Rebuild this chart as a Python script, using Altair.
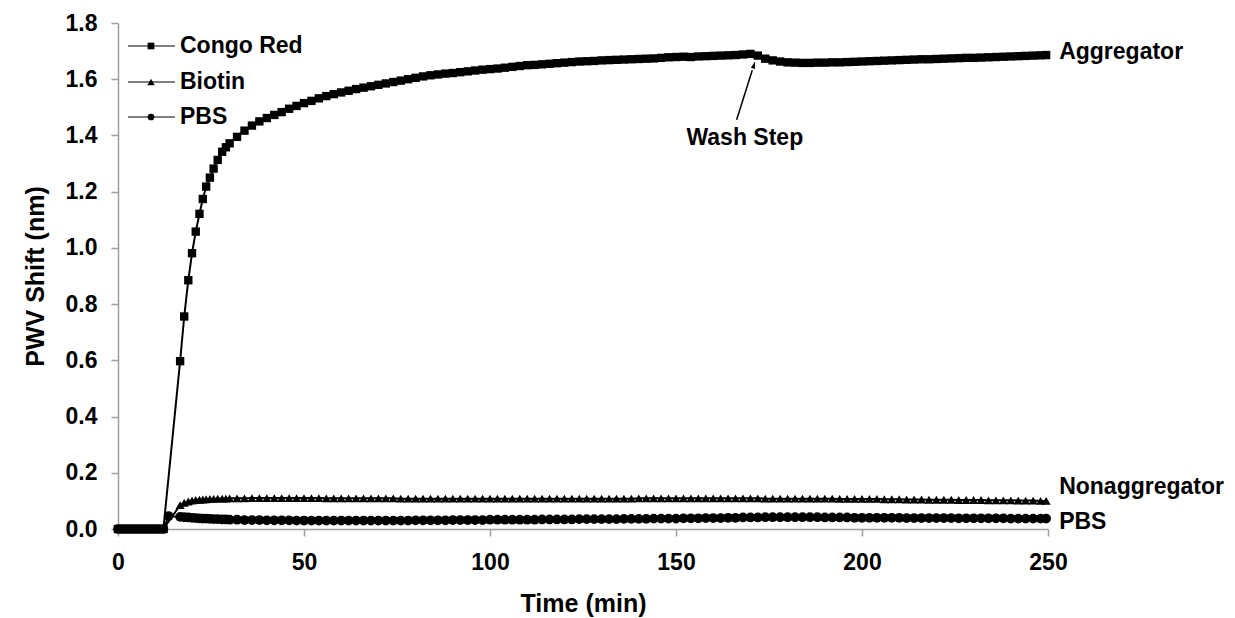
import altair as alt
import pandas as pd

# ---------------- data ----------------
series_names = ["Congo Red", "Biotin", "PBS"]

base_t = [0, 1, 2, 3, 4, 5, 6, 7, 8, 9, 10, 11, 12.2]
base_v = [0.0, 0.0, 0.0, 0.0, 0.0, 0.0, 0.0, 0.0, 0.0, 0.0, 0.0, 0.0, 0.0]

rise_t = [16.7, 17.8, 18.9, 19.9, 20.9, 21.9, 22.8, 23.7, 24.7, 25.7, 26.8, 28.0, 29.0, 30.0]

plat_t = [
    32, 34, 36, 38, 40, 42, 44, 46, 48, 50,
    52, 54, 56, 58, 60, 62, 64, 66, 68, 70,
    72, 74, 76, 78, 80, 82, 84, 86, 88, 90,
    92, 94, 96, 98, 100, 102, 104, 106, 108, 110,
    112, 114, 116, 118, 120, 122, 124, 126, 128, 130,
    132, 134, 136, 138, 140, 142, 144, 146, 148, 150,
    152, 154, 156, 158, 160, 162, 164, 166, 168, 170,
    172, 174, 176, 178, 180, 182, 184, 186, 188, 190,
    192, 194, 196, 198, 200, 202, 204, 206, 208, 210,
    212, 214, 216, 218, 220, 222, 224, 226, 228, 230,
    232, 234, 236, 238, 240, 242, 244, 246, 248, 249.5,
]

congo_rise = [0.597, 0.756, 0.885, 0.981, 1.058, 1.121, 1.174, 1.218, 1.250, 1.282,
              1.313, 1.342, 1.358, 1.372]
congo_plat = [
    1.395, 1.417, 1.435, 1.450, 1.462, 1.473, 1.483, 1.495, 1.505, 1.515,
    1.523, 1.532, 1.540, 1.547, 1.553, 1.559, 1.565, 1.570, 1.575, 1.580,
    1.585, 1.590, 1.595, 1.600, 1.605, 1.610, 1.614, 1.617, 1.620, 1.622,
    1.625, 1.628, 1.631, 1.634, 1.636, 1.638, 1.641, 1.644, 1.647, 1.650,
    1.651, 1.653, 1.655, 1.657, 1.659, 1.661, 1.663, 1.664, 1.665, 1.667,
    1.668, 1.669, 1.670, 1.671, 1.672, 1.673, 1.674, 1.676, 1.678, 1.679,
    1.680, 1.679, 1.681, 1.682, 1.683, 1.684, 1.685, 1.686, 1.688, 1.690,
    1.684, 1.673, 1.667, 1.663, 1.660, 1.659, 1.658, 1.658, 1.659, 1.659,
    1.660, 1.660, 1.661, 1.662, 1.663, 1.664, 1.665, 1.666, 1.667, 1.668,
    1.669, 1.670, 1.671, 1.671, 1.672, 1.673, 1.674, 1.675, 1.676, 1.676,
    1.677, 1.678, 1.679, 1.680, 1.681, 1.682, 1.683, 1.684, 1.685, 1.686,
]

biotin_rise = [0.085, 0.093, 0.098, 0.101, 0.103, 0.104, 0.105, 0.106, 0.107, 0.107,
               0.108, 0.108, 0.108, 0.109]
biotin_plat = [
    0.109, 0.109, 0.110, 0.110, 0.110, 0.110, 0.110, 0.110, 0.110, 0.110,
    0.110, 0.110, 0.109, 0.109, 0.109, 0.109, 0.109, 0.109, 0.109, 0.109,
    0.109, 0.109, 0.108, 0.108, 0.108, 0.108, 0.108, 0.108, 0.108, 0.108,
    0.108, 0.108, 0.108, 0.108, 0.108, 0.108, 0.108, 0.108, 0.108, 0.108,
    0.108, 0.108, 0.108, 0.108, 0.108, 0.108, 0.108, 0.108, 0.108, 0.108,
    0.108, 0.108, 0.108, 0.108, 0.109, 0.109, 0.109, 0.109, 0.109, 0.109,
    0.109, 0.109, 0.109, 0.109, 0.109, 0.109, 0.109, 0.109, 0.109, 0.109,
    0.109, 0.108, 0.108, 0.108, 0.108, 0.108, 0.108, 0.108, 0.108, 0.108,
    0.108, 0.107, 0.107, 0.107, 0.107, 0.107, 0.107, 0.106, 0.106, 0.106,
    0.105, 0.105, 0.105, 0.104, 0.104, 0.104, 0.104, 0.103, 0.103, 0.103,
    0.103, 0.102, 0.102, 0.102, 0.102, 0.101, 0.101, 0.101, 0.100, 0.100,
]

pbs_step_t = [13.6]
pbs_step_v = [0.046]
pbs_rise = [0.043, 0.042, 0.041, 0.040, 0.039, 0.038, 0.037, 0.037, 0.036, 0.035,
            0.035, 0.034, 0.034, 0.033]
pbs_plat = [
    0.033, 0.032, 0.032, 0.032, 0.031, 0.031, 0.031, 0.031, 0.030, 0.030,
    0.030, 0.030, 0.030, 0.030, 0.030, 0.030, 0.030, 0.030, 0.030, 0.030,
    0.030, 0.030, 0.030, 0.030, 0.031, 0.031, 0.031, 0.031, 0.031, 0.032,
    0.032, 0.032, 0.032, 0.032, 0.033, 0.033, 0.033, 0.033, 0.033, 0.033,
    0.033, 0.034, 0.034, 0.034, 0.034, 0.034, 0.035, 0.035, 0.035, 0.035,
    0.035, 0.035, 0.036, 0.036, 0.036, 0.036, 0.037, 0.037, 0.037, 0.037,
    0.038, 0.038, 0.038, 0.039, 0.039, 0.039, 0.040, 0.040, 0.041, 0.041,
    0.041, 0.042, 0.042, 0.042, 0.042, 0.042, 0.042, 0.042, 0.042, 0.041,
    0.041, 0.041, 0.041, 0.040, 0.040, 0.040, 0.040, 0.040, 0.040, 0.040,
    0.039, 0.039, 0.039, 0.039, 0.039, 0.039, 0.039, 0.038, 0.038, 0.038,
    0.038, 0.038, 0.038, 0.038, 0.037, 0.037, 0.037, 0.037, 0.037, 0.037,
]

x_ticks = [0, 50, 100, 150, 200, 250]
y_ticks = [0.0, 0.2, 0.4, 0.6, 0.8, 1.0, 1.2, 1.4, 1.6, 1.8]

end_labels = ["Aggregator", "Nonaggregator", "PBS"]
end_label_t = [253, 253, 253]
end_label_v = [1.697, 0.149, 0.025]

wash_text = "Wash Step"
wash_text_t = [168.5]
wash_text_v = [1.391]
arrow_t = [166.3, 170.5]
arrow_v = [1.456, 1.632]
arrow_head_t = [170.9]
arrow_head_v = [1.648]

# ---------------- build table ----------------
rows = []
def add(name, ts, vs):
    for t, v in zip(ts, vs, strict=True):
        rows.append({"series": name, "t": t, "v": v, "i": len(rows)})

add("Congo Red", base_t + rise_t + plat_t, base_v + congo_rise + congo_plat)
add("Biotin", base_t + rise_t + plat_t, base_v + biotin_rise + biotin_plat)
add("PBS", base_t + pbs_step_t + rise_t + plat_t, base_v + pbs_step_v + pbs_rise + pbs_plat)
df = pd.DataFrame(rows)

FONT = "Liberation Sans"
AX_GRAY = "#a0a0a0"
TXT = 23

x_scale = alt.Scale(domain=[0, 250], nice=False, zero=False)
y_scale = alt.Scale(domain=[0, 1.8], nice=False)

x_enc = alt.X("t:Q", scale=x_scale, axis=alt.Axis(
    values=x_ticks, format="d", title="Time (min)", grid=False,
    labelFontSize=TXT, labelFontWeight="bold", labelColor="black", labelFont=FONT,
    titleFontSize=25, titleFontWeight="bold", titleColor="black", titleFont=FONT,
    domainColor=AX_GRAY, domainWidth=1.5, tickColor=AX_GRAY, tickWidth=1.5, tickSize=7,
    labelPadding=15, titlePadding=17, labelFlush=False))
y_enc = alt.Y("v:Q", scale=y_scale, axis=alt.Axis(
    values=y_ticks, format=".1f", title="PWV Shift (nm)", grid=False,
    labelFontSize=TXT, labelFontWeight="bold", labelColor="black", labelFont=FONT,
    titleFontSize=25, titleFontWeight="bold", titleColor="black", titleFont=FONT,
    domainColor=AX_GRAY, domainWidth=1.5, tickColor=AX_GRAY, tickWidth=1.5, tickSize=7,
    labelPadding=14, titlePadding=17, labelFlush=False))

shape_scale = alt.Scale(domain=series_names, range=["square", "triangle-up", "circle"])
size_scale = alt.Scale(domain=series_names, range=[70, 95, 75])

base = alt.Chart(df)
lines = base.mark_line(color="black", strokeWidth=2).encode(
    x=x_enc, y=y_enc, detail="series:N", order="i:Q")
points = base.mark_point(filled=True, color="black", opacity=1).encode(
    x="t:Q", y="v:Q",
    shape=alt.Shape("series:N", scale=shape_scale, legend=None),
    size=alt.Size("series:N", scale=size_scale, legend=None))

lab_df = pd.DataFrame({"label": end_labels, "t": end_label_t, "v": end_label_v})
end_text = alt.Chart(lab_df).mark_text(
    align="left", baseline="middle", font=FONT, fontSize=TXT, fontWeight="bold", color="black"
).encode(x="t:Q", y="v:Q", text="label:N")

wash_df = pd.DataFrame({"label": [wash_text], "t": wash_text_t, "v": wash_text_v})
wash = alt.Chart(wash_df).mark_text(
    align="center", baseline="middle", font=FONT, fontSize=TXT, fontWeight="bold", color="black"
).encode(x="t:Q", y="v:Q", text="label:N")

arrow_df = pd.DataFrame({"t": [arrow_t[0]], "v": [arrow_v[0]], "t2": [arrow_t[1]], "v2": [arrow_v[1]]})
arrow = alt.Chart(arrow_df).mark_rule(color="black", strokeWidth=1.5).encode(
    x="t:Q", y="v:Q", x2="t2:Q", y2="v2:Q")
head_df = pd.DataFrame({"t": arrow_head_t, "v": arrow_head_v})
head = alt.Chart(head_df).mark_point(
    shape="M0,-1L0.45,0.6L-0.45,0.6Z", filled=True, color="black", opacity=1, size=90, angle=17
).encode(x="t:Q", y="v:Q")

# manual legend (pixel layout inside the plot area)
one = pd.DataFrame({"a": [0]})
legend_layers = []
legend_rows_y = [23, 59, 94]
legend_shapes = ["square", "triangle-up", "circle"]
legend_sizes = [45, 55, 45]
for name, yy, shp, sz in zip(series_names, legend_rows_y, legend_shapes, legend_sizes):
    legend_layers.append(alt.Chart(one).mark_rule(color="black", strokeWidth=1.2).encode(
        x=alt.value(10), x2=alt.value(57), y=alt.value(yy)))
    legend_layers.append(alt.Chart(one).mark_point(
        shape=shp, filled=True, color="black", opacity=1, size=sz).encode(
        x=alt.value(33), y=alt.value(yy)))
    legend_layers.append(alt.Chart(one).mark_text(
        align="left", baseline="middle", font=FONT, fontSize=TXT, fontWeight="bold",
        color="black", text=name).encode(x=alt.value(62), y=alt.value(yy)))

chart = alt.layer(lines, points, end_text, wash, arrow, head, *legend_layers).properties(
    width=930, height=506,
    autosize=alt.AutoSizeParams(type="none"),
    padding={"left": 118, "top": 23, "right": 187, "bottom": 89},
    background="white",
).configure_view(stroke=None)

chart.save("out.html", embed_options={"renderer": "svg", "actions": False})
